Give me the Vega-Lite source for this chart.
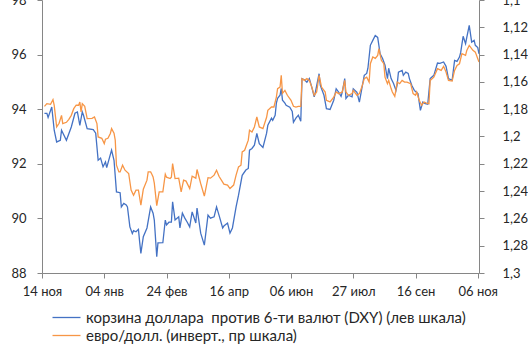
{
  "$schema": "https://vega.github.io/schema/vega-lite/v6.json",
  "width": 437,
  "height": 273,
  "autosize": {"type": "none"},
  "padding": {"left": 42, "top": 0, "right": 49, "bottom": 78},
  "background": "white",
  "config": {
    "view": {"stroke": null},
    "font": "Lato",
    "axis": {
      "grid": false,
      "title": null,
      "domainColor": "#868686",
      "tickColor": "#868686",
      "tickSize": 5,
      "labelFontSize": 13,
      "labelColor": "#262626",
      "labelFlush": false,
      "labelOverlap": false,
      "labelBound": false
    }
  },
  "datasets": {
    "dxy": [
      {"date": "2017-11-16", "value": 93.85}, {"date": "2017-11-18", "value": 93.85}, {"date": "2017-11-19", "value": 93.70},
      {"date": "2017-11-22", "value": 94.08}, {"date": "2017-11-24", "value": 93.23}, {"date": "2017-11-26", "value": 92.80},
      {"date": "2017-11-29", "value": 92.86}, {"date": "2017-11-30", "value": 93.23}, {"date": "2017-12-04", "value": 92.86},
      {"date": "2017-12-08", "value": 93.35}, {"date": "2017-12-11", "value": 93.85}, {"date": "2017-12-13", "value": 93.90},
      {"date": "2017-12-15", "value": 93.41}, {"date": "2017-12-17", "value": 93.90}, {"date": "2017-12-18", "value": 93.78},
      {"date": "2017-12-21", "value": 93.29}, {"date": "2017-12-26", "value": 93.25}, {"date": "2017-12-28", "value": 93.12},
      {"date": "2017-12-30", "value": 92.13}, {"date": "2018-01-01", "value": 92.21}, {"date": "2018-01-03", "value": 91.89},
      {"date": "2018-01-05", "value": 92.07}, {"date": "2018-01-06", "value": 91.86}, {"date": "2018-01-10", "value": 92.50},
      {"date": "2018-01-12", "value": 92.13}, {"date": "2018-01-14", "value": 90.97}, {"date": "2018-01-17", "value": 90.94},
      {"date": "2018-01-18", "value": 90.42}, {"date": "2018-01-20", "value": 90.55}, {"date": "2018-01-22", "value": 90.49},
      {"date": "2018-01-23", "value": 90.42}, {"date": "2018-01-25", "value": 89.69}, {"date": "2018-01-27", "value": 89.45},
      {"date": "2018-01-28", "value": 89.55}, {"date": "2018-01-30", "value": 89.51}, {"date": "2018-02-01", "value": 89.60},
      {"date": "2018-02-02", "value": 89.14}, {"date": "2018-02-03", "value": 88.72}, {"date": "2018-02-05", "value": 89.33},
      {"date": "2018-02-08", "value": 89.65}, {"date": "2018-02-11", "value": 90.42}, {"date": "2018-02-13", "value": 90.19},
      {"date": "2018-02-14", "value": 89.94}, {"date": "2018-02-16", "value": 88.60}, {"date": "2018-02-17", "value": 89.10},
      {"date": "2018-02-21", "value": 89.11}, {"date": "2018-02-23", "value": 89.94}, {"date": "2018-02-24", "value": 89.76},
      {"date": "2018-02-26", "value": 89.86}, {"date": "2018-02-28", "value": 89.86}, {"date": "2018-03-01", "value": 90.61},
      {"date": "2018-03-03", "value": 89.94}, {"date": "2018-03-06", "value": 90.06}, {"date": "2018-03-07", "value": 89.65},
      {"date": "2018-03-09", "value": 90.19}, {"date": "2018-03-11", "value": 90.01}, {"date": "2018-03-13", "value": 89.86},
      {"date": "2018-03-15", "value": 89.69}, {"date": "2018-03-17", "value": 90.24}, {"date": "2018-03-20", "value": 89.83},
      {"date": "2018-03-21", "value": 90.38}, {"date": "2018-03-24", "value": 89.46}, {"date": "2018-03-27", "value": 89.02},
      {"date": "2018-03-30", "value": 90.12}, {"date": "2018-04-01", "value": 90.01}, {"date": "2018-04-04", "value": 90.06},
      {"date": "2018-04-06", "value": 90.42}, {"date": "2018-04-08", "value": 90.12}, {"date": "2018-04-11", "value": 89.65},
      {"date": "2018-04-12", "value": 89.72}, {"date": "2018-04-15", "value": 89.83}, {"date": "2018-04-17", "value": 89.46},
      {"date": "2018-04-19", "value": 89.65}, {"date": "2018-04-22", "value": 90.42}, {"date": "2018-04-24", "value": 90.85},
      {"date": "2018-04-27", "value": 91.58}, {"date": "2018-04-30", "value": 91.77}, {"date": "2018-05-02", "value": 91.83},
      {"date": "2018-05-03", "value": 92.50}, {"date": "2018-05-05", "value": 92.56}, {"date": "2018-05-07", "value": 92.68},
      {"date": "2018-05-09", "value": 93.11}, {"date": "2018-05-11", "value": 92.74}, {"date": "2018-05-14", "value": 92.60},
      {"date": "2018-05-17", "value": 93.12}, {"date": "2018-05-18", "value": 93.41}, {"date": "2018-05-21", "value": 93.67},
      {"date": "2018-05-22", "value": 93.59}, {"date": "2018-05-24", "value": 93.78}, {"date": "2018-05-25", "value": 94.22},
      {"date": "2018-05-26", "value": 94.40}, {"date": "2018-05-28", "value": 94.51}, {"date": "2018-05-29", "value": 94.76},
      {"date": "2018-05-30", "value": 94.33}, {"date": "2018-06-01", "value": 94.22}, {"date": "2018-06-02", "value": 94.14},
      {"date": "2018-06-05", "value": 94.07}, {"date": "2018-06-07", "value": 93.92}, {"date": "2018-06-08", "value": 93.52},
      {"date": "2018-06-10", "value": 93.67}, {"date": "2018-06-12", "value": 93.78}, {"date": "2018-06-14", "value": 93.56},
      {"date": "2018-06-15", "value": 95.12}, {"date": "2018-06-17", "value": 95.08}, {"date": "2018-06-19", "value": 94.99},
      {"date": "2018-06-21", "value": 95.12}, {"date": "2018-06-23", "value": 94.81}, {"date": "2018-06-25", "value": 94.45},
      {"date": "2018-06-26", "value": 94.63}, {"date": "2018-06-29", "value": 95.30}, {"date": "2018-06-30", "value": 94.87},
      {"date": "2018-07-03", "value": 94.51}, {"date": "2018-07-05", "value": 94.02}, {"date": "2018-07-08", "value": 93.99},
      {"date": "2018-07-11", "value": 94.33}, {"date": "2018-07-13", "value": 94.75}, {"date": "2018-07-15", "value": 94.63},
      {"date": "2018-07-17", "value": 94.47}, {"date": "2018-07-18", "value": 94.63}, {"date": "2018-07-20", "value": 95.12},
      {"date": "2018-07-21", "value": 94.39}, {"date": "2018-07-23", "value": 94.51}, {"date": "2018-07-26", "value": 94.45},
      {"date": "2018-07-27", "value": 94.75}, {"date": "2018-07-30", "value": 94.62}, {"date": "2018-08-01", "value": 94.26},
      {"date": "2018-08-03", "value": 94.75}, {"date": "2018-08-05", "value": 95.24}, {"date": "2018-08-07", "value": 95.31},
      {"date": "2018-08-08", "value": 95.50}, {"date": "2018-08-10", "value": 96.34}, {"date": "2018-08-12", "value": 96.52},
      {"date": "2018-08-14", "value": 96.70}, {"date": "2018-08-16", "value": 96.63}, {"date": "2018-08-18", "value": 96.03},
      {"date": "2018-08-20", "value": 95.86}, {"date": "2018-08-22", "value": 95.61}, {"date": "2018-08-24", "value": 95.12},
      {"date": "2018-08-25", "value": 95.50}, {"date": "2018-08-27", "value": 95.12}, {"date": "2018-08-29", "value": 94.94},
      {"date": "2018-08-31", "value": 94.69}, {"date": "2018-09-01", "value": 94.91}, {"date": "2018-09-02", "value": 95.36},
      {"date": "2018-09-05", "value": 95.42}, {"date": "2018-09-06", "value": 95.24}, {"date": "2018-09-08", "value": 95.36},
      {"date": "2018-09-10", "value": 95.31}, {"date": "2018-09-11", "value": 95.12}, {"date": "2018-09-13", "value": 94.87},
      {"date": "2018-09-15", "value": 94.69}, {"date": "2018-09-16", "value": 94.65}, {"date": "2018-09-18", "value": 94.57},
      {"date": "2018-09-20", "value": 93.96}, {"date": "2018-09-22", "value": 94.26}, {"date": "2018-09-24", "value": 94.20},
      {"date": "2018-09-26", "value": 94.18}, {"date": "2018-09-28", "value": 95.12}, {"date": "2018-10-01", "value": 95.24},
      {"date": "2018-10-04", "value": 95.69}, {"date": "2018-10-06", "value": 95.68}, {"date": "2018-10-09", "value": 95.73},
      {"date": "2018-10-11", "value": 95.57}, {"date": "2018-10-13", "value": 95.12}, {"date": "2018-10-16", "value": 95.06},
      {"date": "2018-10-18", "value": 95.79}, {"date": "2018-10-20", "value": 95.75}, {"date": "2018-10-22", "value": 95.91},
      {"date": "2018-10-23", "value": 96.08}, {"date": "2018-10-25", "value": 96.67}, {"date": "2018-10-27", "value": 96.40},
      {"date": "2018-10-28", "value": 96.63}, {"date": "2018-10-30", "value": 97.07}, {"date": "2018-11-01", "value": 96.46},
      {"date": "2018-11-03", "value": 96.52}, {"date": "2018-11-04", "value": 96.34}, {"date": "2018-11-06", "value": 96.26},
      {"date": "2018-11-07", "value": 96.03}
    ],
    "eurusd": [
      {"date": "2017-11-16", "value": 1.1779}, {"date": "2017-11-18", "value": 1.1759}, {"date": "2017-11-21", "value": 1.1764},
      {"date": "2017-11-23", "value": 1.1730}, {"date": "2017-11-24", "value": 1.1771}, {"date": "2017-11-26", "value": 1.1930},
      {"date": "2017-11-28", "value": 1.1903}, {"date": "2017-11-30", "value": 1.1845}, {"date": "2017-12-01", "value": 1.1905},
      {"date": "2017-12-04", "value": 1.1896}, {"date": "2017-12-06", "value": 1.1874}, {"date": "2017-12-08", "value": 1.1845},
      {"date": "2017-12-10", "value": 1.1796}, {"date": "2017-12-12", "value": 1.1771}, {"date": "2017-12-14", "value": 1.1771},
      {"date": "2017-12-15", "value": 1.1747}, {"date": "2017-12-16", "value": 1.1820}, {"date": "2017-12-17", "value": 1.1759},
      {"date": "2017-12-19", "value": 1.1779}, {"date": "2017-12-21", "value": 1.1869}, {"date": "2017-12-25", "value": 1.1867},
      {"date": "2017-12-27", "value": 1.1857}, {"date": "2017-12-29", "value": 1.1905}, {"date": "2017-12-30", "value": 1.2003},
      {"date": "2018-01-02", "value": 1.2013}, {"date": "2018-01-04", "value": 1.2052}, {"date": "2018-01-05", "value": 1.2020},
      {"date": "2018-01-07", "value": 1.2013}, {"date": "2018-01-09", "value": 1.1978}, {"date": "2018-01-10", "value": 1.1942},
      {"date": "2018-01-12", "value": 1.1976}, {"date": "2018-01-13", "value": 1.2027}, {"date": "2018-01-14", "value": 1.2210},
      {"date": "2018-01-16", "value": 1.2259}, {"date": "2018-01-17", "value": 1.2259}, {"date": "2018-01-19", "value": 1.2210},
      {"date": "2018-01-21", "value": 1.2247}, {"date": "2018-01-24", "value": 1.2271}, {"date": "2018-01-26", "value": 1.2393},
      {"date": "2018-01-28", "value": 1.2430}, {"date": "2018-01-30", "value": 1.2393}, {"date": "2018-02-01", "value": 1.2393},
      {"date": "2018-02-03", "value": 1.2503}, {"date": "2018-02-05", "value": 1.2386}, {"date": "2018-02-08", "value": 1.2320},
      {"date": "2018-02-09", "value": 1.2259}, {"date": "2018-02-11", "value": 1.2259}, {"date": "2018-02-12", "value": 1.2276},
      {"date": "2018-02-13", "value": 1.2296}, {"date": "2018-02-14", "value": 1.2342}, {"date": "2018-02-16", "value": 1.2506},
      {"date": "2018-02-18", "value": 1.2405}, {"date": "2018-02-21", "value": 1.2405}, {"date": "2018-02-23", "value": 1.2276},
      {"date": "2018-02-24", "value": 1.2298}, {"date": "2018-02-27", "value": 1.2308}, {"date": "2018-02-28", "value": 1.2298},
      {"date": "2018-03-01", "value": 1.2198}, {"date": "2018-03-03", "value": 1.2308}, {"date": "2018-03-06", "value": 1.2305},
      {"date": "2018-03-08", "value": 1.2405}, {"date": "2018-03-10", "value": 1.2320}, {"date": "2018-03-12", "value": 1.2327},
      {"date": "2018-03-15", "value": 1.2381}, {"date": "2018-03-17", "value": 1.2291}, {"date": "2018-03-20", "value": 1.2305},
      {"date": "2018-03-21", "value": 1.2242}, {"date": "2018-03-24", "value": 1.2344}, {"date": "2018-03-27", "value": 1.2437},
      {"date": "2018-03-30", "value": 1.2302}, {"date": "2018-04-01", "value": 1.2305}, {"date": "2018-04-04", "value": 1.2283},
      {"date": "2018-04-06", "value": 1.2247}, {"date": "2018-04-08", "value": 1.2291}, {"date": "2018-04-12", "value": 1.2349},
      {"date": "2018-04-15", "value": 1.2356}, {"date": "2018-04-17", "value": 1.2381}, {"date": "2018-04-20", "value": 1.2356},
      {"date": "2018-04-22", "value": 1.2283}, {"date": "2018-04-24", "value": 1.2223}, {"date": "2018-04-26", "value": 1.2210},
      {"date": "2018-04-27", "value": 1.2113}, {"date": "2018-04-29", "value": 1.2101}, {"date": "2018-05-02", "value": 1.2027},
      {"date": "2018-05-03", "value": 1.1954}, {"date": "2018-05-05", "value": 1.1967}, {"date": "2018-05-07", "value": 1.1930},
      {"date": "2018-05-09", "value": 1.1857}, {"date": "2018-05-11", "value": 1.1930}, {"date": "2018-05-14", "value": 1.1942},
      {"date": "2018-05-17", "value": 1.1859}, {"date": "2018-05-18", "value": 1.1808}, {"date": "2018-05-21", "value": 1.1784},
      {"date": "2018-05-23", "value": 1.1784}, {"date": "2018-05-25", "value": 1.1711}, {"date": "2018-05-26", "value": 1.1649},
      {"date": "2018-05-28", "value": 1.1638}, {"date": "2018-05-29", "value": 1.1552}, {"date": "2018-05-30", "value": 1.1684},
      {"date": "2018-06-01", "value": 1.1662}, {"date": "2018-06-03", "value": 1.1698}, {"date": "2018-06-06", "value": 1.1735},
      {"date": "2018-06-08", "value": 1.1779}, {"date": "2018-06-10", "value": 1.1784}, {"date": "2018-06-12", "value": 1.1779},
      {"date": "2018-06-14", "value": 1.1779}, {"date": "2018-06-15", "value": 1.1576}, {"date": "2018-06-17", "value": 1.1589},
      {"date": "2018-06-19", "value": 1.1576}, {"date": "2018-06-21", "value": 1.1589}, {"date": "2018-06-23", "value": 1.1638},
      {"date": "2018-06-25", "value": 1.1698}, {"date": "2018-06-27", "value": 1.1674}, {"date": "2018-06-29", "value": 1.1552},
      {"date": "2018-07-01", "value": 1.1638}, {"date": "2018-07-04", "value": 1.1674}, {"date": "2018-07-05", "value": 1.1735},
      {"date": "2018-07-08", "value": 1.1747}, {"date": "2018-07-11", "value": 1.1711}, {"date": "2018-07-13", "value": 1.1674},
      {"date": "2018-07-15", "value": 1.1686}, {"date": "2018-07-18", "value": 1.1674}, {"date": "2018-07-20", "value": 1.1589},
      {"date": "2018-07-21", "value": 1.1674}, {"date": "2018-07-23", "value": 1.1698}, {"date": "2018-07-26", "value": 1.1686},
      {"date": "2018-07-27", "value": 1.1662}, {"date": "2018-07-30", "value": 1.1698}, {"date": "2018-08-01", "value": 1.1686},
      {"date": "2018-08-03", "value": 1.1638}, {"date": "2018-08-05", "value": 1.1576}, {"date": "2018-08-07", "value": 1.1565},
      {"date": "2018-08-09", "value": 1.1601}, {"date": "2018-08-10", "value": 1.1467}, {"date": "2018-08-12", "value": 1.1418},
      {"date": "2018-08-14", "value": 1.1428}, {"date": "2018-08-16", "value": 1.1406}, {"date": "2018-08-17", "value": 1.1357},
      {"date": "2018-08-19", "value": 1.1442}, {"date": "2018-08-21", "value": 1.1467}, {"date": "2018-08-22", "value": 1.1565},
      {"date": "2018-08-24", "value": 1.1613}, {"date": "2018-08-25", "value": 1.1589}, {"date": "2018-08-27", "value": 1.1649},
      {"date": "2018-08-28", "value": 1.1674}, {"date": "2018-08-30", "value": 1.1706}, {"date": "2018-09-01", "value": 1.1601},
      {"date": "2018-09-03", "value": 1.1613}, {"date": "2018-09-05", "value": 1.1589}, {"date": "2018-09-07", "value": 1.1601},
      {"date": "2018-09-09", "value": 1.1601}, {"date": "2018-09-12", "value": 1.1613}, {"date": "2018-09-14", "value": 1.1686},
      {"date": "2018-09-16", "value": 1.1698}, {"date": "2018-09-17", "value": 1.1674}, {"date": "2018-09-19", "value": 1.1735},
      {"date": "2018-09-21", "value": 1.1771}, {"date": "2018-09-23", "value": 1.1747}, {"date": "2018-09-25", "value": 1.1755},
      {"date": "2018-09-27", "value": 1.1759}, {"date": "2018-09-28", "value": 1.1589}, {"date": "2018-10-01", "value": 1.1565},
      {"date": "2018-10-04", "value": 1.1503}, {"date": "2018-10-07", "value": 1.1516}, {"date": "2018-10-09", "value": 1.1486},
      {"date": "2018-10-11", "value": 1.1528}, {"date": "2018-10-13", "value": 1.1589}, {"date": "2018-10-16", "value": 1.1594},
      {"date": "2018-10-18", "value": 1.1516}, {"date": "2018-10-20", "value": 1.1479}, {"date": "2018-10-22", "value": 1.1467},
      {"date": "2018-10-24", "value": 1.1393}, {"date": "2018-10-27", "value": 1.1406}, {"date": "2018-10-28", "value": 1.1369},
      {"date": "2018-10-30", "value": 1.1333}, {"date": "2018-11-02", "value": 1.1369}, {"date": "2018-11-04", "value": 1.1382},
      {"date": "2018-11-06", "value": 1.1430}, {"date": "2018-11-07", "value": 1.1455}
    ]
  },
  "encoding": {
    "x": {
      "field": "date",
      "type": "temporal",
      "scale": {
        "type": "utc",
        "domain": [
          {"year": 2017, "month": 11, "date": 14, "utc": true},
          {"year": 2018, "month": 11, "date": 7, "utc": true}
        ]
      },
      "axis": {
        "values": [
          {"year": 2017, "month": 11, "date": 14, "utc": true},
          {"year": 2018, "month": 1, "date": 4, "utc": true},
          {"year": 2018, "month": 2, "date": 24, "utc": true},
          {"year": 2018, "month": 4, "date": 16, "utc": true},
          {"year": 2018, "month": 6, "date": 6, "utc": true},
          {"year": 2018, "month": 7, "date": 27, "utc": true},
          {"year": 2018, "month": 9, "date": 16, "utc": true},
          {"year": 2018, "month": 11, "date": 6, "utc": true}
        ],
        "labelExpr": "utcFormat(datum.value, '%d') + ' ' + ['янв','фев','мар','апр','май','июн','июл','авг','сен','окт','ноя','дек'][utcmonth(datum.value)]",
        "labelPadding": 7
      }
    }
  },
  "layer": [
    {
      "data": {"name": "dxy"},
      "mark": {"type": "line", "strokeWidth": 1.3, "clip": true},
      "encoding": {
        "y": {
          "field": "value",
          "type": "quantitative",
          "scale": {"domain": [88, 98], "nice": false, "zero": false},
          "axis": {"orient": "left", "values": [88, 90, 92, 94, 96, 98], "labelPadding": 11}
        },
        "color": {
          "datum": "корзина доллара\u00a0 против 6-ти валют (DXY) (лев шкала)",
          "type": "nominal",
          "scale": {
            "domain": ["корзина доллара\u00a0 против 6-ти валют (DXY) (лев шкала)", "евро/долл. (инверт., пр шкала)"],
            "range": ["#4472C4", "#F79646"]
          },
          "legend": {
            "orient": "none",
            "legendX": 17,
            "legendY": 310,
            "title": null,
            "padding": 0,
            "symbolType": "M-7,0H7",
            "symbolSize": 16,
            "symbolStrokeWidth": 1.3,
            "labelOffset": 12,
            "labelFontSize": 15,
            "labelColor": "#262626",
            "labelLimit": 600,
            "rowPadding": 2
          }
        }
      }
    },
    {
      "data": {"name": "eurusd"},
      "mark": {"type": "line", "strokeWidth": 1.3, "clip": true},
      "encoding": {
        "y": {
          "field": "value",
          "type": "quantitative",
          "scale": {"domain": [1.1, 1.3], "nice": false, "zero": false, "reverse": true},
          "axis": {
            "orient": "right",
            "values": [1.1, 1.12, 1.14, 1.16, 1.18, 1.2, 1.22, 1.24, 1.26, 1.28, 1.3],
            "labelExpr": "replace(format(datum.value, '.2~f'), '.', ',')",
            "labelPadding": 18
          }
        },
        "color": {"datum": "евро/долл. (инверт., пр шкала)", "type": "nominal"}
      }
    }
  ],
  "resolve": {"scale": {"y": "independent"}}
}
